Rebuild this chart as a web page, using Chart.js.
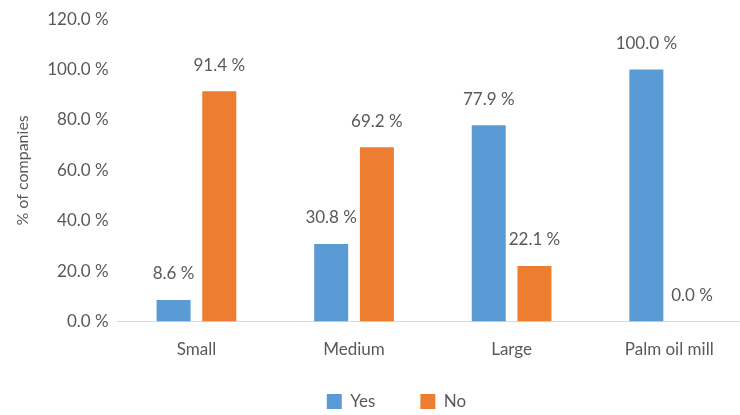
<!DOCTYPE html>
<html>
<head>
<meta charset="utf-8">
<script src="https://cdn.jsdelivr.net/npm/chart.js@4/dist/chart.umd.min.js"></script>
<style>
  html, body { margin: 0; padding: 0; background: #fff; }
  #wrap { width: 740px; height: 415px; overflow: hidden; }
  #c { display: block; }
</style>
</head>
<body>
<div id="wrap"><canvas id="c" width="748" height="415"></canvas></div>
<script>
const categories = ['Small', 'Medium', 'Large', 'Palm oil mill'];
const yesValues = [8.6, 30.8, 77.9, 100.0];
const noValues = [91.4, 69.2, 22.1, 0.0];
const seriesNames = ['Yes', 'No'];
const yTicks = [0, 20, 40, 60, 80, 100, 120];

const FONT = 'Lato, "Noto Sans", sans-serif';
const TEXT = '#595959';

// Writes each bar's value just above its top
const valueLabels = {
  id: 'valueLabels',
  afterDatasetsDraw(chart) {
    const ctx = chart.ctx;
    ctx.save();
    ctx.font = '17px ' + FONT;
    ctx.fillStyle = TEXT;
    ctx.textAlign = 'center';
    ctx.textBaseline = 'middle';
    chart.data.datasets.forEach((ds, i) => {
      chart.getDatasetMeta(i).data.forEach((bar, j) => {
        ctx.fillText(ds.data[j].toFixed(1) + ' %', bar.x, bar.y - 26);
      });
    });
    ctx.restore();
  }
};

// Moves the legend row slightly right and grows its box upward so the
// wide item padding still fits inside the legend's clip area
const legendShift = {
  id: 'legendShift',
  afterLayout(chart) {
    const lg = chart.legend;
    if (!lg) return;
    lg.left += 16; lg.right += 16;
    lg.top -= 30;
    lg.height = lg.bottom - lg.top;
  }
};

new Chart(document.getElementById('c'), {
  type: 'bar',
  data: {
    labels: categories,
    datasets: [
      { label: seriesNames[0], data: yesValues, backgroundColor: '#5b9bd5' },
      { label: seriesNames[1], data: noValues, backgroundColor: '#ed7d31' }
    ]
  },
  options: {
    responsive: false,
    animation: false,
    devicePixelRatio: 1,
    categoryPercentage: 0.58,
    barPercentage: 0.744,
    layout: { padding: { top: 3, right: 0, left: 13, bottom: 0 } },
    plugins: {
      tooltip: { enabled: false },
      legend: {
        position: 'bottom',
        maxHeight: 37,
        labels: {
          font: { family: FONT, size: 17 },
          color: TEXT,
          boxWidth: 15,
          boxHeight: 15,
          padding: 45
        }
      }
    },
    scales: {
      x: {
        grid: { display: false, drawTicks: false },
        border: { color: '#d9d9d9', width: 1 },
        ticks: { font: { family: FONT, size: 17 }, color: TEXT, padding: 18 }
      },
      y: {
        min: 0,
        max: 120,
        afterBuildTicks(axis) { axis.ticks = yTicks.map(v => ({ value: v })); },
        grid: { display: false, drawTicks: false },
        border: { display: false },
        ticks: {
          font: { family: FONT, size: 17 },
          color: TEXT,
          padding: 9,
          callback: v => v.toFixed(1) + ' %'
        },
        title: {
          display: true,
          text: '% of companies',
          font: { family: FONT, size: 16 },
          color: TEXT,
          padding: { top: 0, bottom: 6 }
        }
      }
    }
  },
  plugins: [valueLabels, legendShift]
});
</script>
</body>
</html>
